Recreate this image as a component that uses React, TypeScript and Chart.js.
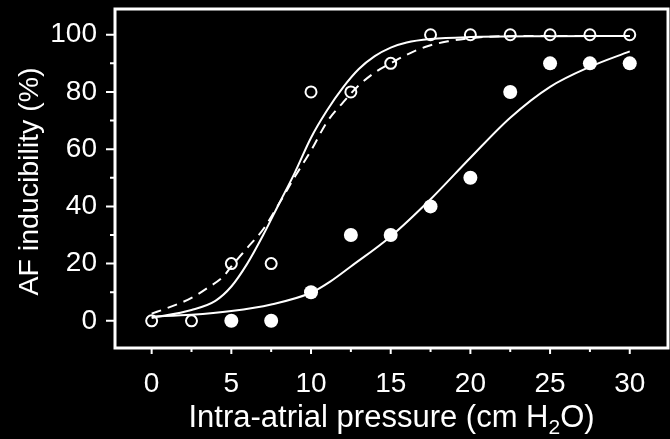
import React, { useEffect, useRef } from "react";
import { Chart, registerables } from "chart.js";

Chart.register(...registerables);

// Measured points
const openPressure = [0, 2.5, 5, 7.5, 10, 12.5, 15, 17.5, 20, 22.5, 25, 27.5, 30];
const openInducibility = [0, 0, 20, 20, 80, 80, 90, 100, 100, 100, 100, 100, 100];
const filledPressure = [5, 7.5, 10, 12.5, 15, 17.5, 20, 22.5, 25, 27.5, 30];
const filledInducibility = [0, 0, 10, 30, 30, 40, 50, 80, 90, 90, 90];

// Fitted curves
const openFitX = [0, 2.5, 4, 5, 6, 7, 8, 9, 10, 11, 12, 13, 14, 15, 16, 17.5, 20, 25, 30];
const openFitY = [1, 3.8, 7, 12, 20, 30, 41, 52, 64, 73.5, 81.5, 88, 92.5, 95.5, 97.3, 98.5, 99.2, 99.5, 99.6];
const dashFitX = [0, 1, 2.5, 3.5, 4.5, 5, 6, 7, 8, 9, 10, 11, 12, 13, 14, 15, 16, 17.3, 18.6, 20, 21.5, 25, 30];
const dashFitY = [2.5, 4.5, 8, 11.5, 15.5, 19, 25.5, 32, 41, 50.5, 59.5, 69.5, 76.3, 82.3, 86.8, 90, 93, 96, 97.7, 98.8, 99.4, 99.6, 99.6];
const filledFitX = [0, 2.5, 5, 7.5, 10, 11.2, 12.5, 15, 17.5, 20, 22.5, 25, 27.5, 30];
const filledFitY = [1.5, 2.1, 3.4, 5.7, 9.8, 13.7, 19, 29.5, 42.5, 57, 71, 81.8, 88.8, 94.2];

// Axes
const xMajorTicks = [0, 5, 10, 15, 20, 25, 30];
const xMinorTicks = [2.5, 7.5, 12.5, 17.5, 22.5, 27.5];
const yMajorTicks = [0, 20, 40, 60, 80, 100];
const yMinorTicks = [10, 30, 50, 70, 90];
const xTitleMain = "Intra-atrial pressure (cm H";
const xTitleSub = "2";
const xTitleEnd = "O)";
const yTitle = "AF inducibility (%)";

const FONT = "'Liberation Sans', Arial, Helvetica, sans-serif";

const zip = (xs: number[], ys: number[]) => xs.map((x, i) => ({ x, y: ys[i] }));

const framePlugin = {
  id: "framePlugin",
  afterDraw(chart: any) {
    const { ctx, chartArea } = chart;
    const { left, right, top, bottom } = chartArea;
    const xs = chart.scales.x;
    const ys = chart.scales.y;
    ctx.save();
    ctx.strokeStyle = "#fff";
    ctx.lineWidth = 3;
    ctx.strokeRect(left, top, right - left, bottom - top);
    ctx.lineWidth = 2;
    ctx.beginPath();
    yMajorTicks.forEach((v) => {
      const p = ys.getPixelForValue(v);
      ctx.moveTo(left - 9, p);
      ctx.lineTo(left, p);
    });
    yMinorTicks.forEach((v) => {
      const p = ys.getPixelForValue(v);
      ctx.moveTo(left - 5, p);
      ctx.lineTo(left, p);
    });
    xMajorTicks.forEach((v) => {
      const p = xs.getPixelForValue(v);
      ctx.moveTo(p, bottom);
      ctx.lineTo(p, bottom + 6);
    });
    xMinorTicks.forEach((v) => {
      const p = xs.getPixelForValue(v);
      ctx.moveTo(p, bottom);
      ctx.lineTo(p, bottom + 4);
    });
    ctx.stroke();

    // titles
    ctx.fillStyle = "#fff";
    ctx.textBaseline = "alphabetic";
    const cx = (left + right) / 2;
    ctx.font = `31px ${FONT}`;
    const w1 = ctx.measureText(xTitleMain).width;
    const w3 = ctx.measureText(xTitleEnd).width;
    ctx.font = `21px ${FONT}`;
    const w2 = ctx.measureText(xTitleSub).width;
    const x0 = cx - (w1 + w2 + w3) / 2;
    const base = 427;
    ctx.textAlign = "left";
    ctx.font = `31px ${FONT}`;
    ctx.fillText(xTitleMain, x0, base);
    ctx.font = `21px ${FONT}`;
    ctx.fillText(xTitleSub, x0 + w1, base + 7);
    ctx.font = `31px ${FONT}`;
    ctx.fillText(xTitleEnd, x0 + w1 + w2, base);

    ctx.font = `28.5px ${FONT}`;
    ctx.translate(38, (top + bottom) / 2 + 3);
    ctx.rotate(-Math.PI / 2);
    ctx.textAlign = "center";
    ctx.fillText(yTitle, 0, 0);
    ctx.restore();
  },
};

const zeroPad = (s: any) => {
  s.paddingTop = 0;
  s.paddingBottom = 0;
  s.paddingLeft = 0;
  s.paddingRight = 0;
};

export default function App() {
  const canvasRef = useRef<HTMLCanvasElement | null>(null);

  useEffect(() => {
    if (!canvasRef.current) return;
    const tickFont = { family: FONT, size: 28 };
    const chart = new Chart(canvasRef.current, {
      type: "scatter",
      data: {
        datasets: [
          {
            label: "open",
            data: zip(openPressure, openInducibility),
            pointStyle: "circle",
            pointRadius: 5.5,
            pointBorderWidth: 2,
            pointBackgroundColor: "rgba(0,0,0,0)",
            pointBorderColor: "#fff",
            showLine: false,
          },
          {
            label: "filled",
            data: zip(filledPressure, filledInducibility),
            pointStyle: "circle",
            pointRadius: 7,
            pointBorderWidth: 0,
            pointBackgroundColor: "#fff",
            pointBorderColor: "#fff",
            showLine: false,
          },
          {
            label: "openFit",
            data: zip(openFitX, openFitY),
            showLine: true,
            pointRadius: 0,
            borderColor: "#fff",
            borderWidth: 2,
            cubicInterpolationMode: "monotone",
          },
          {
            label: "dashFit",
            data: zip(dashFitX, dashFitY),
            showLine: true,
            pointRadius: 0,
            borderColor: "#fff",
            borderWidth: 2,
            borderDash: [10, 7],
            cubicInterpolationMode: "monotone",
          },
          {
            label: "filledFit",
            data: zip(filledFitX, filledFitY),
            showLine: true,
            pointRadius: 0,
            borderColor: "#fff",
            borderWidth: 2,
            cubicInterpolationMode: "monotone",
          },
        ],
      },
      options: {
        animation: false,
        responsive: false,
        maintainAspectRatio: false,
        layout: { autoPadding: false, padding: { left: 0, right: 2, top: 9, bottom: 0 } },
        plugins: { legend: { display: false }, tooltip: { enabled: false } },
        scales: {
          x: {
            type: "linear",
            min: -2.3,
            max: 32.4,
            afterBuildTicks: (s: any) => {
              s.ticks = xMajorTicks.map((v) => ({ value: v }));
            },
            afterFit: (s: any) => {
              s.height = 91;
              zeroPad(s);
            },
            grid: { display: false, drawTicks: false },
            border: { display: false },
            ticks: { color: "#fff", font: tickFont, padding: 19, maxRotation: 0, autoSkip: false },
          },
          y: {
            type: "linear",
            min: -9.5,
            max: 109,
            afterBuildTicks: (s: any) => {
              s.ticks = yMajorTicks.map((v) => ({ value: v }));
            },
            afterFit: (s: any) => {
              s.width = 115;
              zeroPad(s);
            },
            grid: { display: false, drawTicks: false },
            border: { display: false },
            ticks: { color: "#fff", font: tickFont, padding: 18, autoSkip: false },
          },
        },
      },
      plugins: [framePlugin],
    } as any);
    return () => chart.destroy();
  }, []);

  return (
    <div style={{ position: "fixed", left: 0, top: 0, width: 670, height: 439, background: "#000" }}>
      <canvas ref={canvasRef} width={670} height={439} style={{ display: "block", width: 670, height: 439 }} />
    </div>
  );
}
